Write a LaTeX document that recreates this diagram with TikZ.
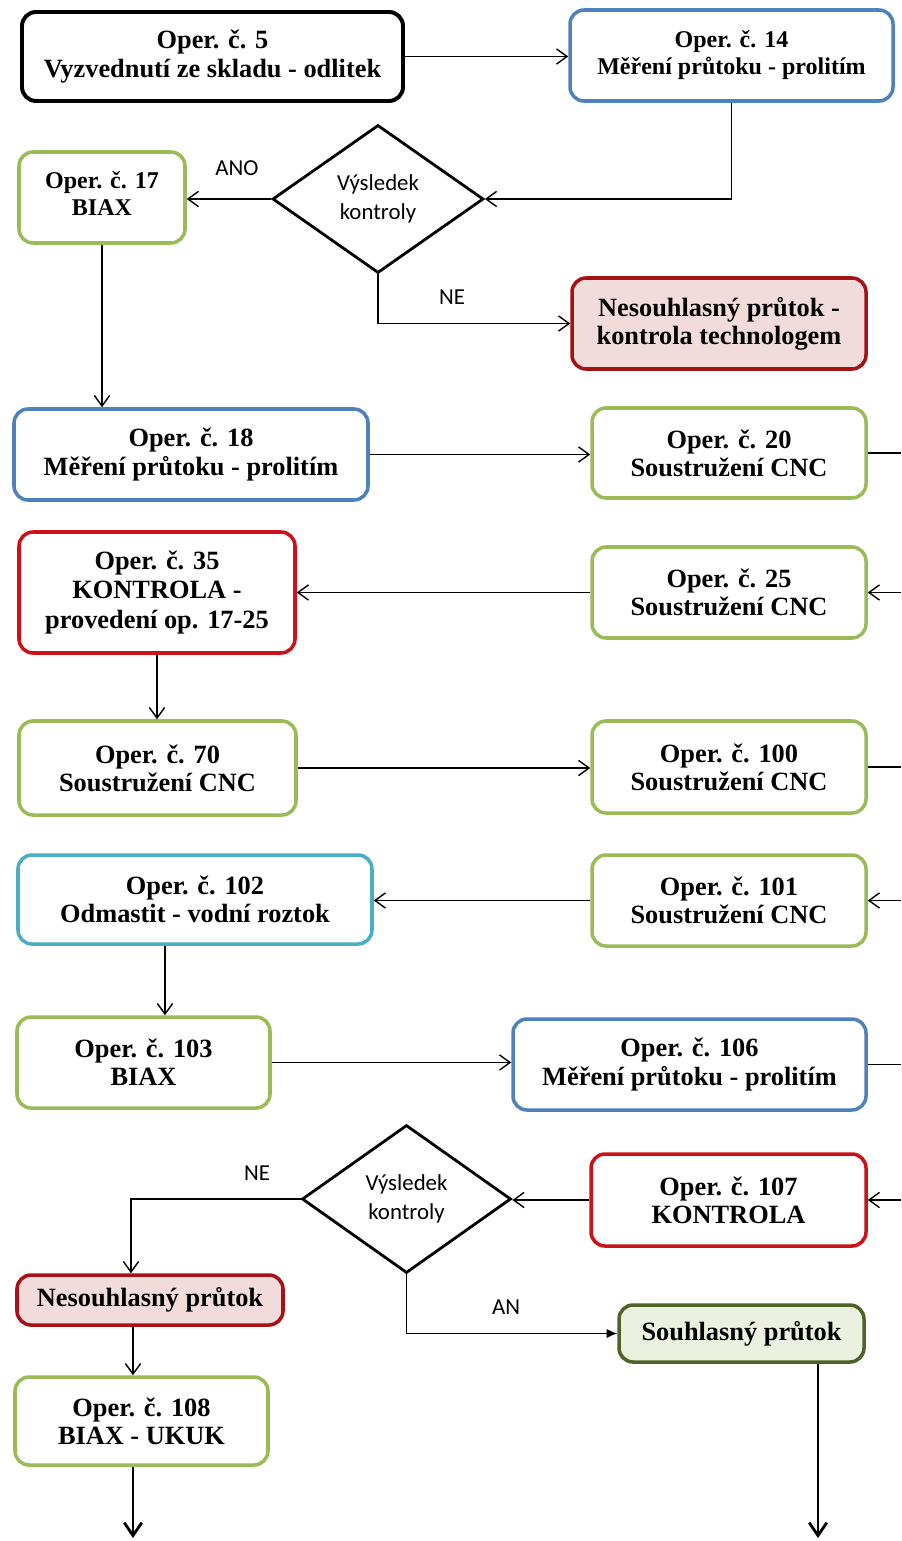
\documentclass[tikz,border=0pt]{standalone}
\usepackage{fontspec}
\setmainfont{Liberation Serif}
\newfontfamily\labelfamily{Carlito}
\usetikzlibrary{arrows.meta,shapes.geometric}

% one drawing unit in points
\newcommand\pxunit{0.8536pt}
\newcommand\bigtext{\fontsize{22.5}{24}\selectfont\bfseries}
\newcommand\smalltext{\fontsize{20.5}{23}\selectfont\bfseries}
\newcommand\tripletext{\fontsize{22.5}{25.5}\selectfont\bfseries}
\newcommand\decfont{\labelfamily\fontsize{19.5}{24.5}\selectfont}

\definecolor{opgreen}{RGB}{155,187,89}
\definecolor{opblue}{RGB}{79,129,189}
\definecolor{opcyan}{RGB}{75,172,198}
\definecolor{opred}{RGB}{204,18,24}
\definecolor{nokred}{RGB}{165,18,22}
\definecolor{nokfill}{RGB}{242,220,219}
\definecolor{okolive}{RGB}{79,98,40}
\definecolor{okfill}{RGB}{235,241,222}

\begin{document}
\begin{tikzpicture}[x=0.8536pt,y=-0.8536pt,
  base/.style={draw, rectangle, rounded corners=12pt, line width=3pt,
               fill=white, align=center, inner sep=0pt, text=black},
  sz/.style 2 args={minimum width=#1*\pxunit, minimum height=#2*\pxunit},
  big/.style={font=\bigtext},
  small/.style={font=\smalltext},
  blackbox/.style={base, draw=black, line width=3.4pt},
  bluebox/.style={base, draw=opblue},
  greenbox/.style={base, draw=opgreen},
  cyanbox/.style={base, draw=opcyan},
  redbox/.style={base, draw=opred},
  nokbox/.style={base, draw=nokred, fill=nokfill},
  okbox/.style={base, draw=okolive, fill=okfill},
  decision/.style={draw, diamond, line width=2.4pt, inner sep=0pt,
                   align=center, font=\decfont, fill=white},
  tag/.style={font=\decfont, inner sep=0pt},
  flow/.style={line width=1.2pt, -{Straight Barb[length=9pt,width=13pt]}},
  link/.style={line width=1.2pt},
  exitflow/.style={line width=2.4pt, -{Straight Barb[length=11pt,width=15pt]}},
  okflow/.style={line width=1.2pt, -{Latex[length=9pt,width=8pt]}}
]
\path[use as bounding box, fill=white] (0,0) rectangle (901,1541);

% operations
\node[blackbox, big, sz={381}{89}] (o5) at (212.5,56.5)
  {Oper. č. 5\\Vyzvednutí ze skladu - odlitek};
\node[bluebox, small, sz={323}{91}] (o14) at (731.5,55.5)
  {Oper. č. 14\\Měření průtoku - prolitím};
\node[decision, sz={211}{148}] (d1) at (378,199) {Výsledek\\kontroly};
\node[greenbox, small, sz={166}{91}] (o17) at (102,197.5)
  {Oper. č. 17\\BIAX\\[-16pt]\mbox{}};
\node[nokbox, big, sz={294}{91}] (n1) at (719,323.5)
  {Nesouhlasný průtok -\\kontrola technologem};
\node[bluebox, big, sz={354}{91}] (o18) at (191,454.5)
  {Oper. č. 18\\Měření průtoku - prolitím};
\node[greenbox, big, sz={274}{90}] (o20) at (729,453)
  {Oper. č. 20\\Soustružení CNC};
\node[greenbox, big, sz={274}{91}] (o25) at (729,592.5)
  {Oper. č. 25\\Soustružení CNC};
\node[redbox, font=\tripletext, sz={276}{121}] (o35) at (157,592.5)
  {Oper. č. 35\\KONTROLA -\\provedení op. 17-25};
\node[greenbox, big, sz={277}{94}] (o70) at (157.5,768)
  {Oper. č. 70\\Soustružení CNC};
\node[greenbox, big, sz={274}{92}] (o100) at (729,767)
  {Oper. č. 100\\Soustružení CNC};
\node[greenbox, big, sz={274}{91}] (o101) at (729,900.5)
  {Oper. č. 101\\Soustružení CNC};
\node[cyanbox, big, sz={354}{89}] (o102) at (195,899.5)
  {Oper. č. 102\\Odmastit - vodní roztok};
\node[greenbox, big, sz={253}{91}] (o103) at (143.5,1062.5)
  {Oper. č. 103\\BIAX};
\node[bluebox, big, sz={353}{91}] (o106) at (689.5,1064.5)
  {Oper. č. 106\\Měření průtoku - prolitím};
\node[redbox, big, sz={275}{92}] (o107) at (728.5,1200)
  {Oper. č. 107\\KONTROLA};
\node[decision, sz={209}{148}] (d2) at (406.5,1199) {Výsledek\\kontroly};
\node[nokbox, big, sz={266}{50}] (n2) at (150,1300) {Nesouhlasný průtok};
\node[okbox, big, sz={245}{57}] (ok) at (741.5,1333.5) {Souhlasný průtok};
\node[greenbox, big, sz={253}{88}] (o108) at (141.5,1421)
  {Oper. č. 108\\BIAX - UKUK};

% branch labels
\node[tag] (lano) at (237,168) {ANO};
\node[tag] (lne1) at (452,297) {NE};
\node[tag] (lne2) at (257,1173) {NE};
\node[tag] (lan) at (506,1307) {AN};

% loose ends at the right and bottom margins
\coordinate (e20) at (901,453);
\coordinate (e25) at (901,592.5);
\coordinate (e100) at (901,767);
\coordinate (e101) at (901,900.5);
\coordinate (e106) at (901,1064.5);
\coordinate (e107) at (901,1200);
\coordinate (end1) at (133,1538);
\coordinate (end2) at (818,1538);
\coordinate (s102) at ([xshift=-30*\pxunit]o102.south);
\coordinate (s2) at ([xshift=-17*\pxunit]n2.south);
\coordinate (t2) at ([xshift=-19*\pxunit]n2.north);

% connectors
\draw[flow] (o5.east) -- (o5.east -| o14.west);
\draw[flow] (o14.south) |- (d1.east);
\draw[flow] (d1.west) -- (d1.west -| o17.east);
\draw[flow] (d1.south) |- (n1.west);
\draw[flow] (o17.south) -- (o17.south |- o18.north);
\draw[flow] (o18.east) -- (o18.east -| o20.west);
\draw[link] (o20.east) -- (e20);
\draw[flow] (e25) -- (o25.east);
\draw[flow] (o25.west) -- (o25.west -| o35.east);
\draw[flow] (o35.south) -- (o35.south |- o70.north);
\draw[flow] (o70.east) -- (o70.east -| o100.west);
\draw[link] (o100.east) -- (e100);
\draw[flow] (e101) -- (o101.east);
\draw[flow] (o101.west) -- (o101.west -| o102.east);
\draw[flow] (s102) -- (s102 |- o103.north);
\draw[flow] (o103.east) -- (o103.east -| o106.west);
\draw[link] (o106.east) -- (e106);
\draw[flow] (e107) -- (o107.east);
\draw[flow] (o107.west) -- (o107.west -| d2.east);
\draw[flow] (d2.west) -| (t2);
\draw[okflow] (d2.south) |- (ok.west);
\draw[flow] (s2) -- (s2 |- o108.north);
\draw[exitflow] (end1 |- o108.south) -- (end1);
\draw[exitflow] (end2 |- ok.south) -- (end2);
\end{tikzpicture}
\end{document}
